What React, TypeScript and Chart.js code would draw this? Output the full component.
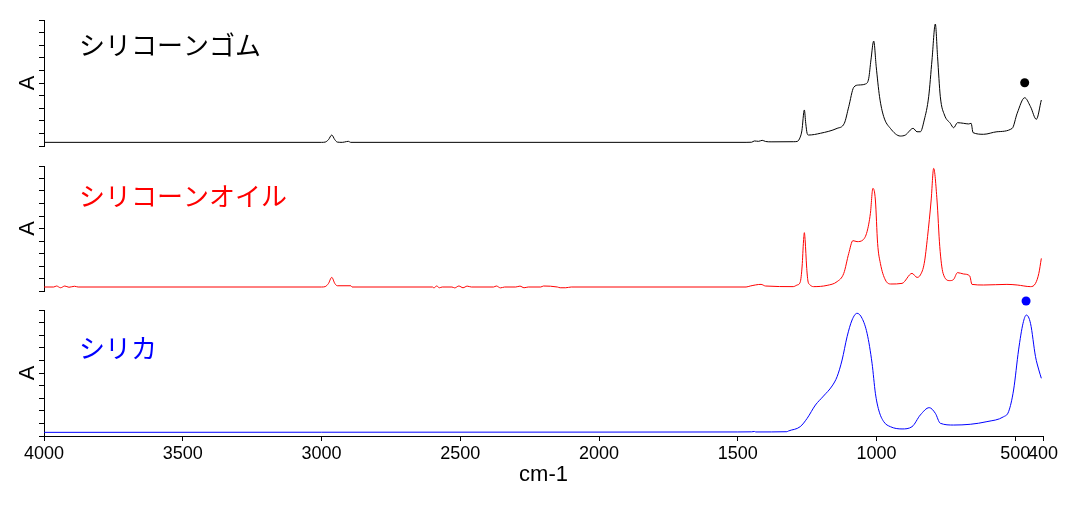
import React, { useEffect, useRef } from "react";
import { Chart, registerables } from "chart.js";

Chart.register(...registerables);
Chart.defaults.font.family = "'Liberation Sans', Arial, sans-serif";

// ---------- data ----------
const xTickValues = [4000, 3500, 3000, 2500, 2000, 1500, 1000, 500, 400];
const xAxisTitle = "cm-1";
const yAxisTitle = "A";

const rubberLabel = "シリコーンゴム";
const rubberWn = [4000, 3000, 2987, 2975, 2963, 2952, 2943, 2925, 2910, 2903, 2895, 1470, 1450, 1440, 1425, 1412, 1400, 1380, 1300, 1286, 1275, 1269, 1260, 1255, 1250, 1245, 1202, 1142, 1116, 1100, 1082, 1064, 1040, 1028, 1020, 1010, 1001, 989, 974, 950, 914, 896, 868, 854, 842, 828, 812, 800, 788, 780, 770, 755, 734, 722, 708, 686, 668, 659, 652, 614, 566, 511, 493, 466, 445, 424, 406];
const rubberAbs = [0.029, 0.029, 0.031, 0.05, 0.087, 0.05, 0.031, 0.029, 0.035, 0.037, 0.029, 0.029, 0.03, 0.04, 0.037, 0.045, 0.036, 0.033, 0.034, 0.036, 0.07, 0.12, 0.286, 0.18, 0.1, 0.087, 0.101, 0.14, 0.18, 0.312, 0.466, 0.484, 0.492, 0.537, 0.683, 0.833, 0.629, 0.391, 0.233, 0.14, 0.079, 0.087, 0.14, 0.113, 0.113, 0.206, 0.391, 0.683, 0.968, 0.709, 0.391, 0.246, 0.18, 0.145, 0.185, 0.18, 0.175, 0.18, 0.106, 0.093, 0.113, 0.14, 0.26, 0.383, 0.312, 0.212, 0.365];
const rubberMarkerWn = [466];
const rubberMarkerAbs = [0.502];

const oilLabel = "シリコーンオイル";
const oilWn = [4000, 3965, 3955, 3940, 3925, 3910, 3890, 3877, 3000, 2987, 2975, 2963, 2952, 2943, 2894, 2890, 2600, 2595, 2585, 2575, 2565, 2530, 2520, 2505, 2490, 2475, 2460, 2380, 2370, 2355, 2340, 2300, 2285, 2270, 2255, 2210, 2200, 2150, 2140, 2120, 2100, 1470, 1455, 1416, 1400, 1300, 1286, 1275, 1268, 1263, 1260, 1257, 1252, 1247, 1240, 1227, 1178, 1142, 1118, 1100, 1085, 1070, 1049, 1034, 1022, 1013, 1004, 996, 986, 968, 948, 908, 872, 854, 842, 828, 816, 803, 794, 782, 772, 760, 736, 722, 708, 686, 664, 656, 614, 530, 493, 445, 427, 415, 406];
const oilAbs = [0.032, 0.032, 0.04, 0.026, 0.04, 0.03, 0.038, 0.032, 0.032, 0.035, 0.06, 0.109, 0.06, 0.042, 0.042, 0.032, 0.032, 0.025, 0.04, 0.026, 0.032, 0.032, 0.025, 0.04, 0.026, 0.039, 0.032, 0.032, 0.04, 0.025, 0.032, 0.032, 0.039, 0.026, 0.032, 0.032, 0.04, 0.032, 0.026, 0.026, 0.032, 0.032, 0.04, 0.053, 0.04, 0.035, 0.048, 0.07, 0.2, 0.4, 0.467, 0.4, 0.2, 0.08, 0.05, 0.035, 0.045, 0.075, 0.141, 0.301, 0.403, 0.395, 0.408, 0.475, 0.621, 0.821, 0.728, 0.381, 0.221, 0.088, 0.056, 0.061, 0.141, 0.109, 0.128, 0.221, 0.435, 0.728, 0.981, 0.728, 0.355, 0.141, 0.083, 0.093, 0.147, 0.136, 0.12, 0.053, 0.048, 0.053, 0.048, 0.035, 0.061, 0.141, 0.261];

const silicaLabel = "シリカ";
const silicaWn = [4000, 3000, 2000, 1500, 1450, 1440, 1435, 1323, 1317, 1275, 1250, 1220, 1191, 1160, 1142, 1124, 1106, 1088, 1070, 1052, 1034, 1016, 1004, 992, 974, 950, 908, 872, 842, 810, 788, 770, 722, 662, 602, 542, 524, 506, 488, 472, 460, 445, 427, 415, 406];
const silicaAbs = [0.029, 0.03, 0.031, 0.032, 0.033, 0.036, 0.032, 0.034, 0.04, 0.074, 0.14, 0.246, 0.317, 0.397, 0.471, 0.603, 0.788, 0.921, 0.974, 0.934, 0.815, 0.577, 0.339, 0.206, 0.114, 0.074, 0.056, 0.074, 0.167, 0.225, 0.18, 0.101, 0.087, 0.093, 0.114, 0.153, 0.193, 0.365, 0.683, 0.894, 0.96, 0.894, 0.63, 0.524, 0.458];
const silicaMarkerWn = [461];
const silicaMarkerAbs = [1.071];

// ---------- layout ----------
const W = 1085;
type Panel = {
  top: number;
  height: number;
  padTop: number;
  padBottom: number;
  showX: boolean;
  wn: number[];
  abs: number[];
  mWn: number[];
  mAbs: number[];
  color: string;
  label: string;
  labelY: number;
};

const panels: Panel[] = [
  { top: 0, height: 152, padTop: 20, padBottom: 6, showX: false, wn: rubberWn, abs: rubberAbs, mWn: rubberMarkerWn, mAbs: rubberMarkerAbs, color: "#000000", label: rubberLabel, labelY: 45 },
  { top: 150, height: 145, padTop: 16, padBottom: 4, showX: false, wn: oilWn, abs: oilAbs, mWn: [], mAbs: [], color: "#ff0000", label: oilLabel, labelY: 46 },
  { top: 290, height: 222, padTop: 20, padBottom: 0, showX: true, wn: silicaWn, abs: silicaAbs, mWn: silicaMarkerWn, mAbs: silicaMarkerAbs, color: "#0000ff", label: silicaLabel, labelY: 58 },
];

function makeChart(canvas: HTMLCanvasElement, p: Panel) {
  const overlayPlugin = {
    id: "panelOverlay",
    afterDraw(chart: any) {
      const ctx = chart.ctx as CanvasRenderingContext2D;
      const xs = chart.scales.x;
      const ys = chart.scales.y;
      ctx.save();
      // marker dots (may sit above the plot area)
      ctx.fillStyle = p.color;
      p.mWn.forEach((w, i) => {
        ctx.beginPath();
        ctx.arc(xs.getPixelForValue(w), ys.getPixelForValue(p.mAbs[i]), 4.5, 0, Math.PI * 2);
        ctx.fill();
      });
      // panel label
      ctx.font = '26px "Noto Sans CJK JP", sans-serif';
      ctx.textBaseline = "middle";
      ctx.textAlign = "left";
      ctx.fillText(p.label, 79, p.labelY);
      ctx.restore();
    },
  };
  return new Chart(canvas, {
    type: "line",
    data: {
      datasets: [
        {
          data: p.wn.map((x, i) => ({ x, y: p.abs[i] })),
          borderColor: p.color,
          borderWidth: 1,
          pointRadius: 0,
          fill: false,
          cubicInterpolationMode: "monotone",
        },
      ],
    },
    options: {
      responsive: false,
      animation: false,
      events: [],
      layout: { padding: { top: p.padTop, bottom: p.padBottom, left: 0, right: 42 } },
      plugins: { legend: { display: false }, tooltip: { enabled: false } },
      scales: {
        x: {
          type: "linear",
          min: 400,
          max: 4000,
          reverse: true,
          display: p.showX,
          afterBuildTicks: (s: any) => {
            s.ticks = xTickValues.map((v) => ({ value: v }));
          },
          afterFit: p.showX
            ? (s: any) => {
                s.height = 76;
              }
            : undefined,
          ticks: {
            autoSkip: false,
            maxRotation: 0,
            minRotation: 0,
            padding: 2,
            color: "#000",
            font: { size: 18 },
            callback: (v: any) => String(v),
          },
          grid: { drawOnChartArea: false, drawTicks: true, tickLength: 5, color: "#000" },
          border: { display: true, color: "#000", width: 1 },
          title: {
            display: true,
            text: xAxisTitle,
            color: "#000",
            font: { size: 22 },
            padding: { top: 0, bottom: 24 },
          },
        },
        y: {
          type: "linear",
          min: 0,
          max: 1,
          afterFit: (s: any) => {
            s.width = 44;
          },
          ticks: { stepSize: 0.1, display: false },
          grid: { drawOnChartArea: false, drawTicks: true, tickLength: 5, color: "#000" },
          border: { display: true, color: "#000", width: 1 },
          title: {
            display: true,
            text: yAxisTitle,
            color: "#000",
            font: { size: 22 },
            padding: { top: 15, bottom: 0 },
          },
        },
      },
    },
    plugins: [overlayPlugin],
  } as any);
}

export default function App() {
  const r0 = useRef<HTMLCanvasElement>(null);
  const r1 = useRef<HTMLCanvasElement>(null);
  const r2 = useRef<HTMLCanvasElement>(null);
  const refs = [r0, r1, r2];

  useEffect(() => {
    const charts = panels.map((p, i) => makeChart(refs[i].current as HTMLCanvasElement, p));
    return () => charts.forEach((c) => c.destroy());
  }, []);

  return (
    <div style={{ position: "absolute", left: 0, top: 0, width: W, height: 512, background: "#fff", overflow: "hidden" }}>
      {panels.map((p, i) => (
        <canvas
          key={i}
          ref={refs[i]}
          width={W}
          height={p.height}
          style={{ position: "absolute", left: 0, top: p.top, width: W, height: p.height, display: "block" }}
        />
      ))}
    </div>
  );
}
